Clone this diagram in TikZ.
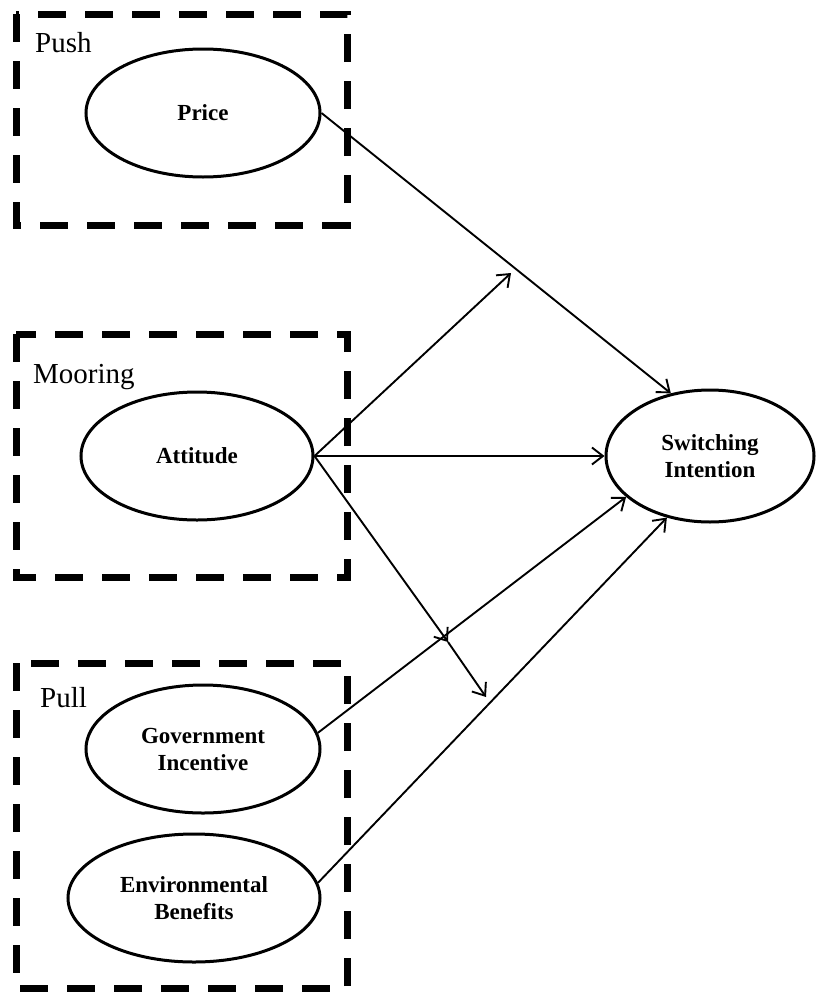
\documentclass[tikz,border=0pt]{standalone}
\usepackage{fontspec}
\setmainfont{Liberation Serif}
\usetikzlibrary{shapes.geometric,arrows.meta}

\tikzset{
  groupbox/.style={draw, line width=7pt, dash pattern=on 28pt off 19pt},
  grouplabel/.style={anchor=base west, inner sep=0pt, font=\fontsize{29}{33}\selectfont},
  construct/.style={ellipse, draw, line width=3pt, inner sep=0pt, align=center,
    font=\fontsize{23}{27}\selectfont\bfseries},
  path/.style={line width=1.9pt, -{Straight Barb[length=11pt,width=17pt,line width=1.9pt]}}
}

\begin{document}
\begin{tikzpicture}[x=1pt,y=-1pt]
  \useasboundingbox (0,0) rectangle (815,993);

  % group frames
  \draw[groupbox] (16,14) rectangle (347,225);
  \draw[groupbox] (16,334) rectangle (347,577);
  \draw[groupbox] (16,663) rectangle (347,988);

  \node[grouplabel] (lpush) at (35,52) {Push};
  \node[grouplabel] (lmoor) at (33,383) {Mooring};
  \node[grouplabel] (lpull) at (40,707) {Pull};

  % constructs
  \node[construct, minimum width=234pt, minimum height=128pt] (price) at (203,113) {Price};
  \node[construct, minimum width=232pt, minimum height=128pt] (att) at (197,456) {Attitude};
  \node[construct, minimum width=234pt, minimum height=128pt] (gov) at (203,749) {Government\\Incentive};
  \node[construct, minimum width=252pt, minimum height=128pt] (env) at (194,898) {Environmental\\Benefits};
  \node[construct, minimum width=208pt, minimum height=132pt] (si) at (710,456) {Switching\\Intention};

  % moderating targets
  \coordinate (m1) at (511,273);
  \coordinate (m2) at (448,642);
  \coordinate (m3) at (486,697);

  % paths
  \draw[path] (price.east) -- (si.122);
  \draw[path] (att.east) -- (si.west);
  \draw[path] (gov.8) -- (si.206);
  \draw[path] (env.7) -- (si.235);
  \draw[path] (att.east) -- (m1);
  \draw[path] (att.east) -- (m2);
  \draw[path] (m2) -- (m3);
\end{tikzpicture}
\end{document}
